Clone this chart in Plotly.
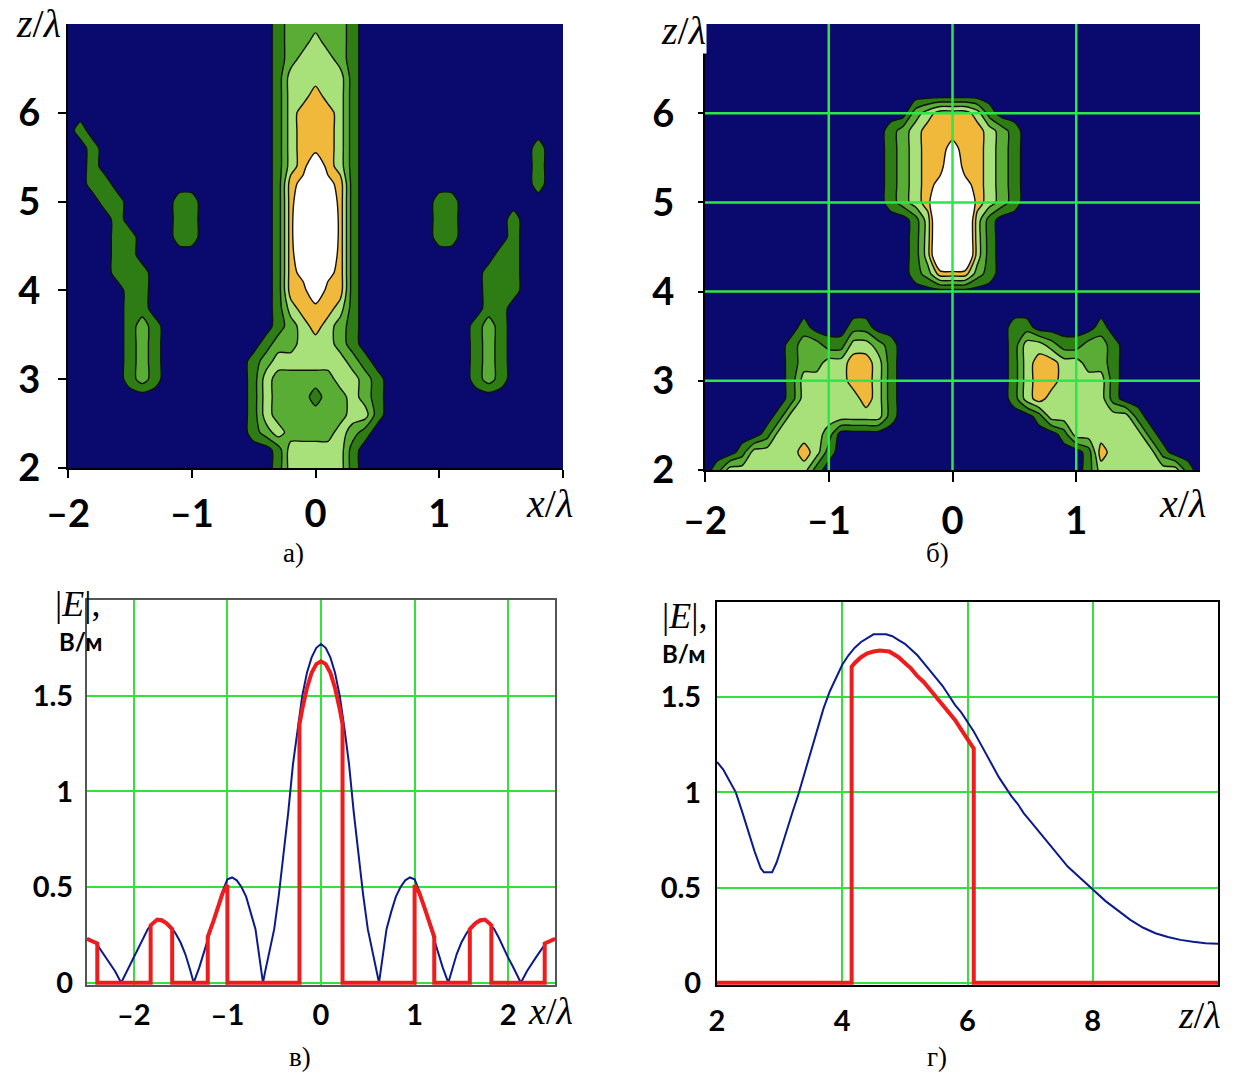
import plotly.graph_objects as go

# ---------------- grid for the two field maps ----------------
GRID_X = [-2.0, -1.9, -1.8, -1.7, -1.6, -1.5, -1.4, -1.3, -1.2, -1.1, -1.0, -0.9, -0.8, -0.7,
          -0.6, -0.5, -0.4, -0.3, -0.2, -0.1, 0.0, 0.1, 0.2, 0.3, 0.4, 0.5, 0.6, 0.7, 0.8, 0.9,
          1.0, 1.1, 1.2, 1.3, 1.4, 1.5, 1.6, 1.7, 1.8, 1.9, 2.0]
GRID_Z = [2.0, 2.2, 2.4, 2.6, 2.8, 3.0, 3.2, 3.4, 3.6, 3.8, 4.0, 4.2, 4.4, 4.6, 4.8, 5.0,
          5.2, 5.4, 5.6, 5.8, 6.0, 6.2, 6.4, 6.6, 6.8, 7.0]

A_LEVELS = [
    {17: 1, 18: 3, 19: 3, 20: 3, 21: 3, 22: 3, 23: 1},                                   # 2.0
    {17: 1, 18: 3, 19: 3, 20: 3, 21: 3, 22: 3, 23: 1},                                   # 2.2
    {15: 1, 16: 2, 17: 3, 18: 2, 19: 2, 20: 2, 21: 2, 22: 3, 23: 2, 24: 1},              # 2.4
    {15: 1, 16: 3, 17: 2, 18: 2, 19: 2, 20: 2, 21: 2, 22: 2, 23: 3, 24: 3, 25: 1},       # 2.6
    {15: 1, 16: 3, 17: 2, 18: 2, 19: 2, 20: 1, 21: 2, 22: 2, 23: 3, 24: 2, 25: 1},       # 2.8
    {5: 1, 6: 2, 7: 1, 15: 1, 16: 3, 17: 2, 18: 2, 19: 2, 20: 2, 21: 2, 22: 3, 23: 3,
     24: 2, 25: 1, 33: 1, 34: 2, 35: 1},                                                  # 3.0
    {5: 1, 6: 2, 7: 1, 15: 1, 16: 2, 17: 3, 18: 3, 19: 3, 20: 3, 21: 3, 22: 3, 23: 2,
     24: 1, 33: 1, 34: 2, 35: 1},                                                         # 3.2
    {5: 1, 6: 2, 7: 1, 16: 1, 17: 2, 18: 2, 19: 3, 20: 3, 21: 3, 22: 2, 23: 1,
     33: 1, 34: 2, 35: 1},                                                                # 3.4
    {5: 1, 6: 2, 7: 1, 17: 1, 18: 2, 19: 3, 20: 4, 21: 3, 22: 2, 23: 1,
     33: 1, 34: 2, 35: 1},                                                                # 3.6
    {5: 1, 6: 1, 17: 1, 18: 3, 19: 4, 20: 4, 21: 4, 22: 3, 23: 1, 34: 1, 35: 1},         # 3.8
    {5: 1, 6: 1, 17: 1, 18: 4, 19: 4, 20: 6, 21: 4, 22: 4, 23: 1, 34: 1, 35: 1, 36: 1},  # 4.0
    {4: 1, 5: 1, 6: 1, 17: 1, 18: 4, 19: 5, 20: 7, 21: 5, 22: 4, 23: 1,
     34: 1, 35: 1, 36: 1},                                                                # 4.2
    {4: 1, 5: 1, 17: 1, 18: 4, 19: 6, 20: 8, 21: 6, 22: 4, 23: 1, 35: 1, 36: 1},         # 4.4
    {4: 1, 5: 1, 9: 1, 10: 1, 17: 1, 18: 4, 19: 7, 20: 9, 21: 7, 22: 4, 23: 1,
     30: 1, 31: 1, 36: 1},                                                                # 4.6
    {4: 1, 9: 1, 10: 1, 17: 1, 18: 4, 19: 7, 20: 9, 21: 7, 22: 4, 23: 1,
     30: 1, 31: 1, 36: 1},                                                                # 4.8
    {3: 1, 4: 1, 9: 1, 10: 1, 17: 1, 18: 4, 19: 6, 20: 8, 21: 6, 22: 4, 23: 1,
     30: 1, 31: 1},                                                                       # 5.0
    {2: 1, 3: 1, 17: 1, 18: 4, 19: 5, 20: 7, 21: 5, 22: 4, 23: 1, 38: 1},                # 5.2
    {2: 1, 17: 1, 18: 3, 19: 4, 20: 6, 21: 4, 22: 3, 23: 1, 38: 1},                      # 5.4
    {2: 1, 17: 1, 18: 3, 19: 4, 20: 4, 21: 4, 22: 3, 23: 1, 38: 1},                      # 5.6
    {1: 1, 17: 1, 18: 3, 19: 4, 20: 4, 21: 4, 22: 3, 23: 1},                             # 5.8
    {17: 1, 18: 3, 19: 4, 20: 4, 21: 4, 22: 3, 23: 1},                                   # 6.0
    {17: 1, 18: 3, 19: 3, 20: 4, 21: 3, 22: 3, 23: 1},                                   # 6.2
    {17: 1, 18: 3, 19: 3, 20: 3, 21: 3, 22: 3, 23: 1},                                   # 6.4
    {17: 1, 18: 2, 19: 3, 20: 3, 21: 3, 22: 2, 23: 1},                                   # 6.6
    {17: 1, 18: 2, 19: 2, 20: 3, 21: 2, 22: 2, 23: 1},                                   # 6.8
    {17: 1, 18: 2, 19: 2, 20: 2, 21: 2, 22: 2, 23: 1},                                   # 7.0
]

B_LEVELS = [
    {1: 1, 2: 3, 3: 3, 4: 3, 5: 3, 6: 3, 7: 3, 8: 3, 9: 1,
     31: 1, 32: 3, 33: 3, 34: 3, 35: 3, 36: 3, 37: 3, 38: 3, 39: 1},                      # 2.0
    {3: 1, 4: 3, 5: 3, 6: 3, 7: 3, 8: 4, 9: 3, 10: 1,
     31: 1, 32: 4, 33: 3, 34: 3, 35: 3, 36: 3, 37: 1},                                    # 2.2
    {5: 1, 6: 3, 7: 3, 8: 3, 9: 3, 10: 2,
     29: 1, 30: 3, 31: 3, 32: 3, 33: 3, 34: 3, 35: 3, 36: 1},                             # 2.4
    {6: 1, 7: 3, 8: 3, 9: 3, 10: 3, 11: 3, 12: 3, 13: 3, 14: 3, 15: 1,
     27: 1, 28: 3, 29: 3, 30: 3, 31: 3, 32: 3, 33: 3, 34: 3, 35: 1},                      # 2.6
    {7: 1, 8: 3, 9: 3, 10: 3, 11: 3, 12: 3, 13: 4, 14: 3, 15: 1,
     25: 1, 26: 3, 27: 4, 28: 3, 29: 3, 30: 3, 31: 3, 32: 3, 33: 1},                      # 2.8
    {7: 1, 8: 3, 9: 3, 10: 3, 11: 3, 12: 4, 13: 4, 14: 3, 15: 1,
     25: 1, 26: 3, 27: 4, 28: 4, 29: 3, 30: 3, 31: 3, 32: 3, 33: 1},                      # 3.0
    {7: 1, 8: 2, 9: 2, 10: 3, 11: 3, 12: 4, 13: 4, 14: 3, 15: 1,
     25: 1, 26: 3, 27: 4, 28: 4, 29: 3, 30: 3, 31: 2, 32: 2, 33: 1},                      # 3.2
    {7: 1, 8: 2, 9: 2, 10: 1, 11: 1, 12: 3, 13: 3, 14: 2, 15: 1,
     25: 1, 26: 3, 27: 3, 28: 2, 29: 1, 30: 1, 31: 2, 32: 2, 33: 1},                      # 3.4
    {8: 1, 12: 1, 13: 1, 25: 1, 26: 1, 32: 1},                                           # 3.6
    {},                                                                                   # 3.8
    {},                                                                                   # 4.0
    {17: 1, 18: 2, 19: 4, 20: 4, 21: 4, 22: 2, 23: 1},                                   # 4.2
    {17: 1, 18: 3, 19: 7, 20: 8, 21: 7, 22: 3, 23: 1},                                   # 4.4
    {17: 1, 18: 3, 19: 7, 20: 8, 21: 7, 22: 3, 23: 1},                                   # 4.6
    {17: 1, 18: 3, 19: 7, 20: 8, 21: 7, 22: 3, 23: 1},                                   # 4.8
    {15: 1, 16: 2, 17: 3, 18: 4, 19: 7, 20: 8, 21: 7, 22: 4, 23: 3, 24: 2, 25: 1},       # 5.0
    {15: 1, 16: 2, 17: 3, 18: 4, 19: 5, 20: 7, 21: 5, 22: 4, 23: 3, 24: 2, 25: 1},       # 5.2
    {15: 1, 16: 2, 17: 3, 18: 4, 19: 4, 20: 6, 21: 4, 22: 4, 23: 3, 24: 2, 25: 1},       # 5.4
    {15: 1, 16: 2, 17: 3, 18: 4, 19: 4, 20: 5, 21: 4, 22: 4, 23: 3, 24: 2, 25: 1},       # 5.6
    {15: 1, 16: 2, 17: 3, 18: 4, 19: 4, 20: 4, 21: 4, 22: 4, 23: 3, 24: 2, 25: 1},       # 5.8
    {17: 2, 18: 3, 19: 4, 20: 4, 21: 4, 22: 3, 23: 1},                                   # 6.0
    {}, {}, {}, {}, {},                                                                   # 6.2 - 7.0
]

BAND_COLORS = ["#0a0a6e", "#2e7d14", "#5aad34", "#a8e07a", "#f0b93c", "#ffffff"]

A_TICKS_X = [-2, -1, 0, 1, 2]
A_TICKTEXT_X = ["\u20132", "\u20131", "0", "1", ""]
B_TICKS_X = [-2, -1, 0, 1]
B_TICKTEXT_X = ["\u20132", "\u20131", "0", "1"]
MAP_TICKS_Z = [2, 3, 4, 5, 6]
B_GRID_X = [-1, 0, 1]
B_GRID_Z = [3, 4, 5, 6]

# ---------------- (c) transverse profile ----------------
C_X = [-2.5, -2.45, -2.4, -2.35, -2.3, -2.25, -2.2, -2.135, -2.1, -2.05, -2.0, -1.95, -1.9,
       -1.85, -1.8, -1.75, -1.7, -1.65, -1.6, -1.55, -1.5, -1.45, -1.4, -1.36, -1.3, -1.25,
       -1.2, -1.15, -1.1, -1.05, -1.0, -0.95, -0.9, -0.85, -0.8, -0.75, -0.7, -0.65, -0.62,
       -0.6, -0.55, -0.5, -0.45, -0.4, -0.35, -0.3, -0.25, -0.2, -0.15, -0.1, -0.05, 0.0,
       0.05, 0.1, 0.15, 0.2, 0.25, 0.3, 0.35, 0.4, 0.45, 0.5, 0.55, 0.6, 0.62, 0.65, 0.7,
       0.75, 0.8, 0.85, 0.9, 0.95, 1.0, 1.05, 1.1, 1.15, 1.2, 1.25, 1.3, 1.36, 1.4, 1.45,
       1.5, 1.55, 1.6, 1.65, 1.7, 1.75, 1.8, 1.85, 1.9, 1.95, 2.0, 2.05, 2.1, 2.135, 2.2,
       2.25, 2.3, 2.35, 2.4, 2.45, 2.5]
C_BLUE = [0.23, 0.22, 0.205, 0.17, 0.135, 0.10, 0.06, 0.0, 0.035, 0.085, 0.13, 0.18, 0.235,
          0.28, 0.31, 0.333, 0.33, 0.315, 0.29, 0.255, 0.21, 0.15, 0.07, 0.0, 0.08, 0.16,
          0.24, 0.32, 0.40, 0.48, 0.54, 0.55, 0.535, 0.50, 0.45, 0.37, 0.28, 0.105, 0.0,
          0.05, 0.16, 0.28, 0.46, 0.66, 0.89, 1.14, 1.33, 1.50, 1.62, 1.70, 1.75, 1.77,
          1.75, 1.70, 1.62, 1.50, 1.33, 1.14, 0.89, 0.66, 0.46, 0.28, 0.16, 0.05, 0.0, 0.105,
          0.28, 0.37, 0.45, 0.50, 0.535, 0.55, 0.54, 0.48, 0.40, 0.32, 0.24, 0.16, 0.08, 0.0,
          0.07, 0.15, 0.21, 0.255, 0.29, 0.315, 0.33, 0.333, 0.31, 0.28, 0.235, 0.18, 0.13,
          0.085, 0.035, 0.0, 0.06, 0.10, 0.135, 0.17, 0.205, 0.22, 0.23]
C_RED_X = [-2.5, -2.45, -2.39, -2.39, -1.82, -1.82, -1.8, -1.75, -1.7, -1.65, -1.59, -1.59,
           -1.21, -1.21, -1.15, -1.1, -1.05, -1.0, -1.0, -0.23, -0.23, -0.2, -0.15, -0.1,
           -0.05, 0.0, 0.05, 0.1, 0.15, 0.2, 0.23, 0.23, 1.0, 1.0, 1.05, 1.1, 1.15, 1.21,
           1.21, 1.59, 1.59, 1.65, 1.7, 1.75, 1.8, 1.82, 1.82, 2.39, 2.39, 2.45, 2.5]
C_RED = [0.23, 0.22, 0.205, 0, 0, 0.30, 0.31, 0.33, 0.325, 0.31, 0.28, 0, 0, 0.24, 0.32,
         0.40, 0.47, 0.51, 0, 0, 1.35, 1.43, 1.54, 1.62, 1.665, 1.68, 1.665, 1.62, 1.54,
         1.43, 1.35, 0, 0, 0.51, 0.47, 0.40, 0.32, 0.24, 0, 0, 0.28, 0.31, 0.325, 0.33,
         0.31, 0.30, 0, 0, 0.205, 0.22, 0.23]
C_TICKS_X = [-2, -1, 0, 1, 2]
C_TICKTEXT_X = ["\u20132", "\u20131", "0", "1", "2"]

# ---------------- (d) longitudinal profile ----------------
D_Z = [2.0, 2.1, 2.2, 2.3, 2.4, 2.5, 2.6, 2.7, 2.75, 2.88, 2.95, 3.0, 3.1, 3.2, 3.3, 3.4,
       3.5, 3.6, 3.7, 3.8, 3.9, 4.0, 4.1, 4.2, 4.3, 4.4, 4.5, 4.7, 4.8, 4.9, 5.0, 5.1, 5.2,
       5.3, 5.4, 5.5, 5.6, 5.7, 5.8, 5.9, 6.0, 6.1, 6.2, 6.3, 6.4, 6.5, 6.6, 6.7, 6.8, 6.9,
       7.0, 7.2, 7.4, 7.6, 7.8, 8.0, 8.2, 8.4, 8.6, 8.8, 9.0, 9.2, 9.4, 9.6, 9.8, 10.0]
D_BLUE = [1.16, 1.12, 1.06, 1.00, 0.90, 0.79, 0.69, 0.60, 0.58, 0.58, 0.63, 0.68, 0.79, 0.89,
          0.99, 1.10, 1.21, 1.33, 1.44, 1.53, 1.60, 1.67, 1.72, 1.76, 1.79, 1.81, 1.83, 1.83,
          1.82, 1.80, 1.78, 1.75, 1.72, 1.68, 1.64, 1.60, 1.56, 1.51, 1.46, 1.42, 1.37, 1.32,
          1.26, 1.20, 1.14, 1.08, 1.03, 0.98, 0.94, 0.89, 0.85, 0.77, 0.69, 0.61, 0.55, 0.49,
          0.43, 0.38, 0.33, 0.29, 0.26, 0.24, 0.225, 0.215, 0.207, 0.205]
D_RED_Z = [2.0, 4.15, 4.15, 4.2, 4.3, 4.4, 4.5, 4.6, 4.75, 4.9, 5.0, 5.1, 5.2, 5.3, 5.4, 5.5,
           5.6, 5.7, 5.8, 5.9, 6.0, 6.1, 6.1, 10.0]
D_RED = [0, 0, 1.66, 1.68, 1.71, 1.73, 1.74, 1.745, 1.74, 1.71, 1.68, 1.65, 1.61, 1.58, 1.54,
         1.50, 1.46, 1.42, 1.38, 1.33, 1.28, 1.23, 0, 0]
D_TICKS_X = [2, 4, 6, 8]
E_TICKS = [0, 0.5, 1, 1.5]
E_TICKTEXT = ["0", "0.5", "1", "1.5"]

# ------------------------------------------------------------
W, H = 1235, 1072
NAVY_BLUE = "#0b1a8c"
RED = "#ee1c1c"
GRID_GREEN = "#34e03a"


def grid(levels):
    return [[row.get(j, 0) for j in range(len(GRID_X))] for row in levels]


colorscale = [[k / (len(BAND_COLORS) - 1), c] for k, c in enumerate(BAND_COLORS)]
contours = dict(start=0.5, end=4.5, size=1, coloring="fill", showlines=True)

fig = go.Figure()
fig.add_trace(go.Contour(x=GRID_X, y=GRID_Z, z=grid(A_LEVELS), colorscale=colorscale,
                         autocontour=False, contours=contours, showscale=False,
                         line=dict(color="#111111", width=1.4, smoothing=0.7),
                         hoverinfo="skip", xaxis="x", yaxis="y"))
fig.add_trace(go.Contour(x=GRID_X, y=GRID_Z, z=grid(B_LEVELS), colorscale=colorscale,
                         autocontour=False, contours=contours, showscale=False,
                         line=dict(color="#111111", width=1.4, smoothing=0.7),
                         hoverinfo="skip", xaxis="x2", yaxis="y2"))
fig.add_trace(go.Scatter(x=C_X, y=C_BLUE, mode="lines", line=dict(color=NAVY_BLUE, width=2),
                         xaxis="x3", yaxis="y3", showlegend=False))
fig.add_trace(go.Scatter(x=C_RED_X, y=C_RED, mode="lines", line=dict(color=RED, width=4),
                         xaxis="x3", yaxis="y3", showlegend=False))
fig.add_trace(go.Scatter(x=D_Z, y=D_BLUE, mode="lines", line=dict(color=NAVY_BLUE, width=2),
                         xaxis="x4", yaxis="y4", showlegend=False))
fig.add_trace(go.Scatter(x=D_RED_Z, y=D_RED, mode="lines", line=dict(color=RED, width=4),
                         xaxis="x4", yaxis="y4", showlegend=False))


def dom_x(p0, p1):
    return [p0 / W, p1 / W]


def dom_y(top, bottom):
    return [1 - bottom / H, 1 - top / H]


big_font = dict(family="Lato", size=38, color="black", weight="bold")
mid_font = dict(family="Lato", size=29, color="black", weight="bold")

map_axis = dict(showgrid=False, zeroline=False, showline=True, linecolor="black",
                linewidth=2, ticks="outside", tickcolor="black", tickwidth=2,
                tickfont=big_font, automargin=False)
line_axis = dict(showgrid=True, gridcolor=GRID_GREEN, gridwidth=2, zeroline=False,
                 showline=True, mirror=True, linewidth=2, ticks="", tickfont=mid_font,
                 layer="below traces", automargin=False)

fig.update_layout(
    width=W, height=H, margin=dict(l=0, r=0, t=0, b=0, pad=0, autoexpand=False),
    paper_bgcolor="white", plot_bgcolor="white", showlegend=False,
    xaxis=dict(map_axis, domain=dom_x(68, 563), range=[-2, 2], anchor="y",
               tickvals=A_TICKS_X, ticktext=A_TICKTEXT_X, ticklen=8, ticklabelstandoff=3),
    yaxis=dict(map_axis, domain=dom_y(24, 468), range=[2, 7], anchor="x",
               tickvals=MAP_TICKS_Z, ticklen=8, ticklabelstandoff=10),
    xaxis2=dict(map_axis, domain=dom_x(705, 1200), range=[-2, 2], anchor="y2",
                tickvals=B_TICKS_X, ticktext=B_TICKTEXT_X, ticklen=10, ticklabelstandoff=6),
    yaxis2=dict(map_axis, domain=dom_y(24, 470), range=[2, 7], anchor="x2",
                tickvals=MAP_TICKS_Z, ticklen=5, ticklabelstandoff=16),
    xaxis3=dict(line_axis, domain=dom_x(87, 555), range=[-2.5, 2.5], anchor="y3",
                linecolor="#555555", tickvals=C_TICKS_X, ticktext=C_TICKTEXT_X,
                ticklabelstandoff=3),
    yaxis3=dict(line_axis, domain=dom_y(600, 985), range=[-0.012, 2.0], anchor="x3",
                linecolor="#555555", tickvals=E_TICKS, ticktext=E_TICKTEXT,
                ticklabelstandoff=6),
    xaxis4=dict(line_axis, domain=dom_x(717, 1218), range=[2, 10], anchor="y4",
                linecolor="black", tickvals=D_TICKS_X, ticklabelstandoff=9),
    yaxis4=dict(line_axis, domain=dom_y(602, 985), range=[-0.012, 2.0], anchor="x4",
                linecolor="black", tickvals=E_TICKS, ticktext=E_TICKTEXT,
                ticklabelstandoff=8),
)

# bright grid drawn over map (b)
shapes = []
for v in B_GRID_X:
    shapes.append(dict(type="line", xref="x2", yref="y2 domain", x0=v, x1=v, y0=0, y1=1,
                       line=dict(color="#2ee64a", width=2.5), layer="above"))
for v in B_GRID_Z:
    shapes.append(dict(type="line", xref="x2 domain", yref="y2", x0=0, x1=1, y0=v, y1=v,
                       line=dict(color="#2ee64a", width=2.5), layer="above"))
fig.update_layout(shapes=shapes)

serif = "Liberation Serif"


def note(text, px, py, size, family=serif, bg=None, weight="normal"):
    a = dict(text=text, x=px / W, y=1 - py / H, xref="paper", yref="paper",
             showarrow=False, xanchor="center", yanchor="middle",
             font=dict(family=family, size=size, color="black", weight=weight))
    if bg:
        a["bgcolor"] = bg
        a["borderpad"] = 0
    return a


ann = [
    note("<i>z</i>/<i>λ</i>", 38, 24, 40),
    note("<i>x</i>/<i>λ</i>", 549, 503, 40),
    note("<i>z</i>/<i>λ</i>", 683, 30, 40, bg="white"),
    note("<i>x</i>/<i>λ</i>", 1182, 503, 40),
    note("|<i>E</i>|,", 77, 604, 36),
    note("В/м", 80, 641, 24, family="Lato", weight="bold"),
    note("<i>x</i>/<i>λ</i>", 550, 1011, 38),
    note("|<i>E</i>|,", 684, 616, 36),
    note("В/м", 683, 653, 24, family="Lato", weight="bold"),
    note("<i>z</i>/<i>λ</i>", 1199, 1015, 38),
    note("а)", 293, 553, 27),
    note("б)", 937, 553, 27),
    note("в)", 300, 1057, 27),
    note("г)", 937, 1057, 27),
]
fig.update_layout(annotations=ann)

fig.write_html("out.html")
